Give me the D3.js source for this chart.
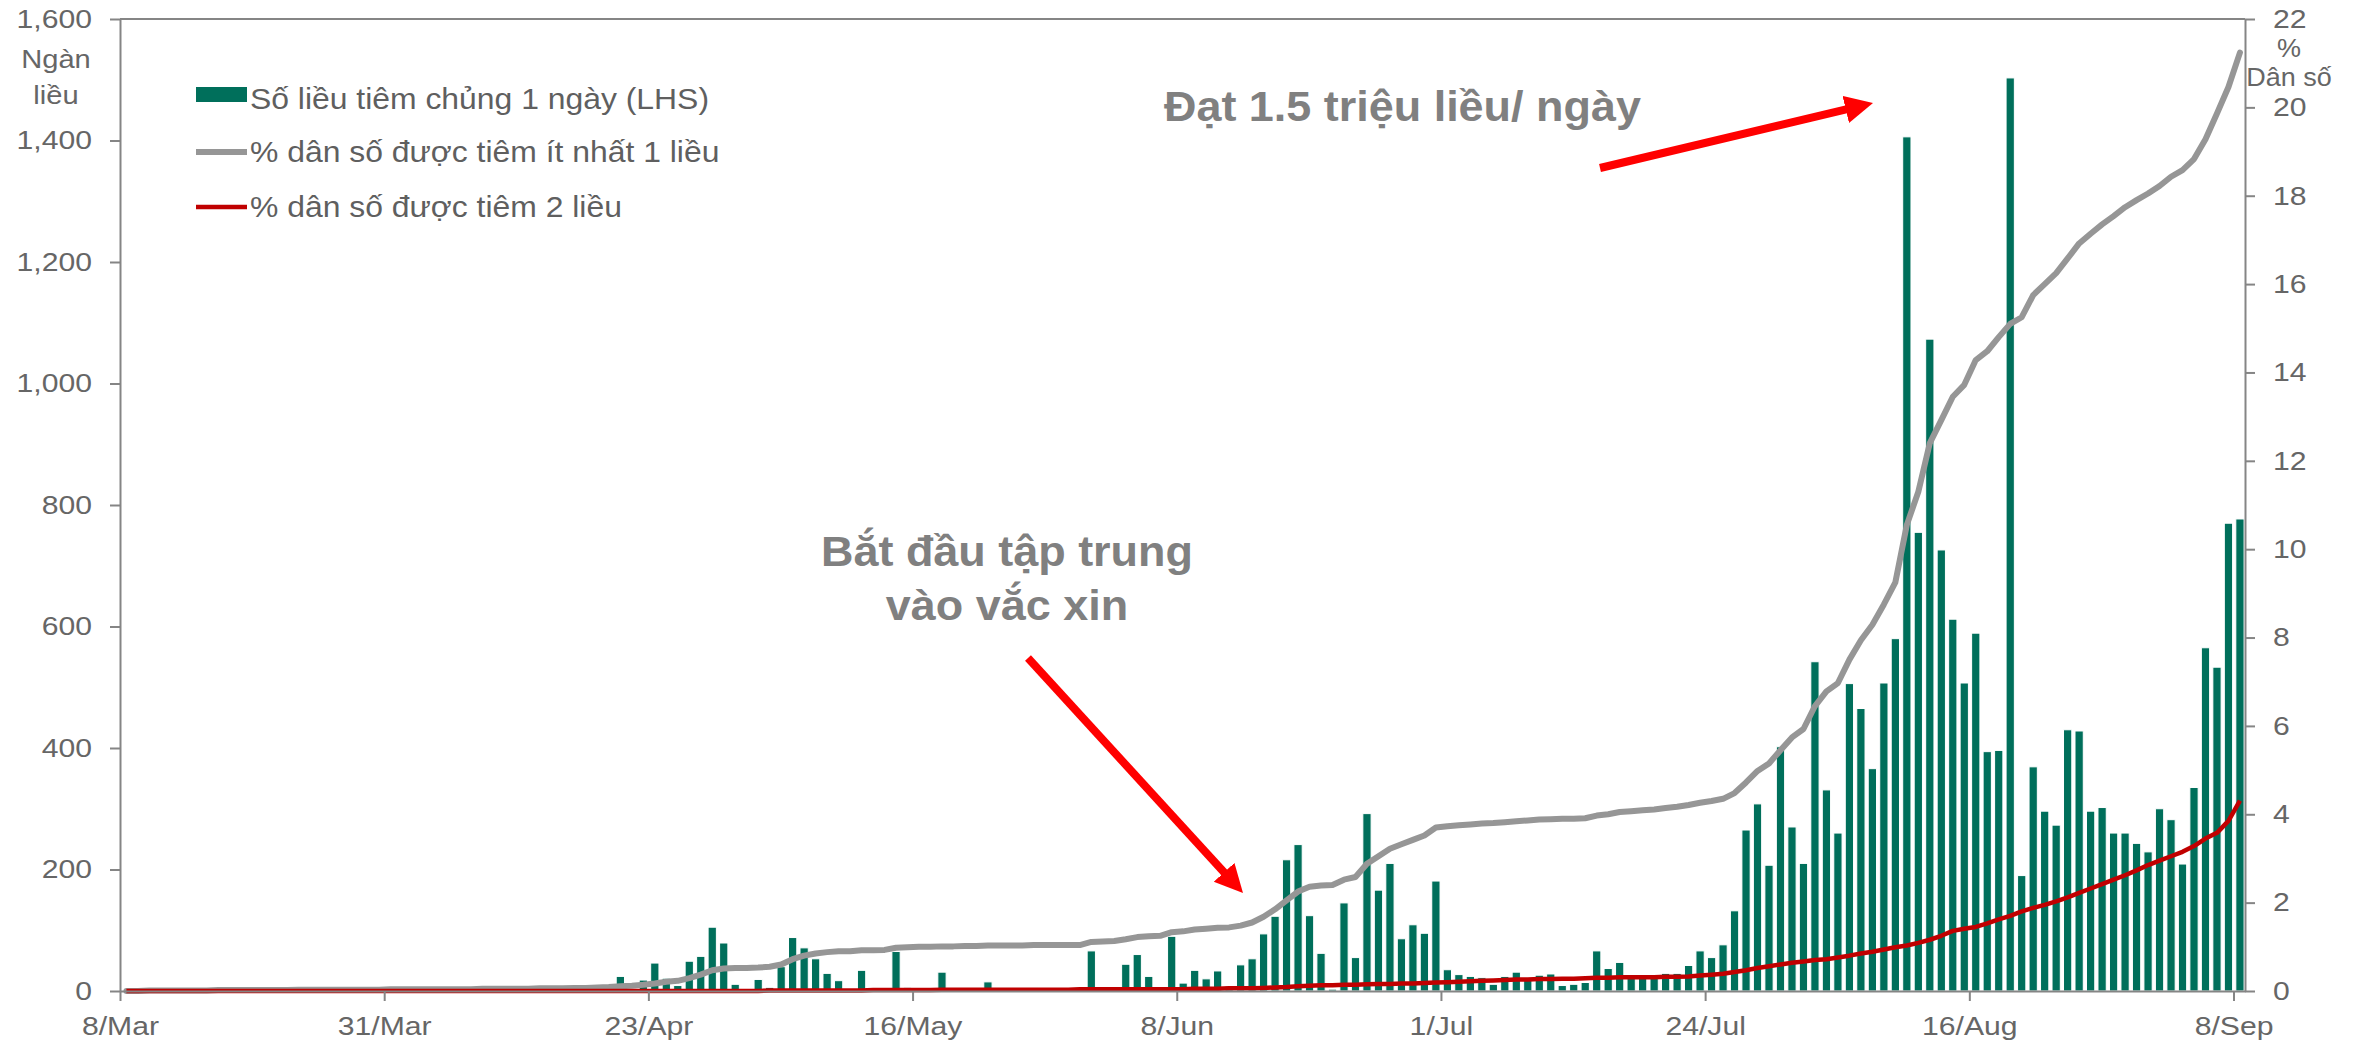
<!DOCTYPE html>
<html>
<head>
<meta charset="utf-8">
<script src="https://cdn.jsdelivr.net/npm/d3@7"></script>
<style>
  body { margin: 0; background: #fff; }
  svg { display: block; font-family: "Liberation Sans", Arial, sans-serif; }
</style>
</head>
<body>
<svg id="chart" width="2361" height="1047"></svg>
<script>
// 1: DATA (one value per day, starting 8/Mar/2021)
const startDate = "2021-03-08";

// daily doses, thousand doses (LHS)
const dailyDoses = [
  1, 1, 2, 2, 2, 1, 2, 2, 3, 2,
  2, 2, 3, 2, 2, 3, 3, 2, 3, 3,
  2, 3, 2, 2, 3, 3, 3, 2, 2, 3,
  3, 3, 2, 3, 3, 3, 4, 4, 3, 4,
  5, 8, 3, 24, 4, 18, 46, 21, 9, 49,
  57, 105, 79, 11, 2, 19, 6, 40, 88, 71,
  53, 29, 17, 2, 34, 2, 2, 65, 6, 2,
  2, 31, 2, 2, 2, 15, 2, 2, 2, 5,
  2, 2, 2, 2, 66, 3, 6, 44, 60, 24,
  3, 90, 13, 34, 20, 33, 8, 43, 53, 94,
  123, 216, 241, 124, 62, 3, 145, 55, 292, 166,
  210, 86, 109, 95, 181, 35, 27, 24, 22, 11,
  24, 31, 21, 26, 28, 9, 11, 14, 66, 37,
  47, 26, 24, 24, 29, 29, 42, 66, 55, 76,
  132, 265, 308, 207, 402, 270, 210, 542, 331, 260,
  506, 465, 366, 507, 580, 1406, 755, 1073, 726, 612,
  507, 589, 394, 396, 1503, 190, 369, 296, 273, 430,
  428, 296, 302, 260, 260, 243, 229, 300, 282, 209,
  335, 565, 533, 770, 777
];

// % population with at least 1 dose (RHS)
const pctOneDose = [
  0.00, 0.00, 0.01, 0.01, 0.01, 0.01, 0.01, 0.01, 0.02, 0.02,
  0.02, 0.02, 0.02, 0.02, 0.02, 0.03, 0.03, 0.03, 0.03, 0.03,
  0.03, 0.03, 0.03, 0.04, 0.04, 0.04, 0.04, 0.04, 0.04, 0.04,
  0.04, 0.05, 0.05, 0.05, 0.05, 0.05, 0.06, 0.06, 0.06, 0.07,
  0.07, 0.08, 0.09, 0.11, 0.12, 0.14, 0.17, 0.21, 0.23, 0.29,
  0.37, 0.47, 0.51, 0.52, 0.52, 0.53, 0.55, 0.60, 0.72, 0.80,
  0.85, 0.88, 0.90, 0.90, 0.92, 0.92, 0.93, 0.98, 0.99, 1.00,
  1.00, 1.01, 1.01, 1.02, 1.02, 1.03, 1.03, 1.03, 1.03, 1.04,
  1.04, 1.04, 1.04, 1.04, 1.11, 1.12, 1.13, 1.17, 1.22, 1.24,
  1.25, 1.33, 1.35, 1.39, 1.41, 1.43, 1.44, 1.48, 1.55, 1.68,
  1.85, 2.05, 2.25, 2.36, 2.39, 2.40, 2.52, 2.58, 2.88, 3.05,
  3.22, 3.32, 3.42, 3.52, 3.70, 3.73, 3.75, 3.77, 3.79, 3.80,
  3.82, 3.84, 3.86, 3.88, 3.89, 3.90, 3.90, 3.91, 3.97, 4.00,
  4.05, 4.07, 4.09, 4.11, 4.14, 4.17, 4.21, 4.26, 4.30, 4.35,
  4.48, 4.72, 4.98, 5.15, 5.45, 5.74, 5.93, 6.45, 6.78, 6.97,
  7.50, 7.94, 8.29, 8.75, 9.25, 10.55, 11.30, 12.40, 12.92, 13.45,
  13.72, 14.28, 14.48, 14.80, 15.10, 15.25, 15.75, 16.00, 16.25, 16.58,
  16.92, 17.14, 17.35, 17.54, 17.74, 17.90, 18.05, 18.22, 18.43, 18.58,
  18.83, 19.28, 19.86, 20.46, 21.24
];

// % population with 2 doses (RHS)
const pctTwoDoses = [
  0, 0, 0, 0, 0, 0, 0, 0, 0, 0,
  0, 0, 0, 0, 0, 0, 0, 0, 0, 0,
  0, 0, 0, 0, 0, 0, 0, 0, 0, 0,
  0, 0, 0, 0, 0, 0, 0, 0, 0, 0,
  0, 0, 0, 0, 0, 0, 0, 0, 0, 0,
  0, 0, 0, 0, 0, 0, 0.01, 0.01, 0.01, 0.01,
  0.01, 0.01, 0.01, 0.01, 0.01, 0.02, 0.02, 0.02, 0.02, 0.02,
  0.02, 0.03, 0.03, 0.03, 0.03, 0.03, 0.03, 0.03, 0.03, 0.03,
  0.03, 0.03, 0.03, 0.04, 0.04, 0.04, 0.04, 0.04, 0.04, 0.04,
  0.04, 0.04, 0.04, 0.05, 0.05, 0.05, 0.06, 0.06, 0.06, 0.07,
  0.08, 0.09, 0.11, 0.12, 0.13, 0.13, 0.14, 0.14, 0.15, 0.16,
  0.16, 0.17, 0.17, 0.18, 0.19, 0.20, 0.21, 0.22, 0.23, 0.24,
  0.25, 0.26, 0.26, 0.27, 0.27, 0.28, 0.28, 0.29, 0.30, 0.30,
  0.31, 0.31, 0.31, 0.31, 0.32, 0.32, 0.33, 0.35, 0.37, 0.39,
  0.43, 0.47, 0.52, 0.56, 0.60, 0.64, 0.67, 0.70, 0.72, 0.76,
  0.80, 0.85, 0.89, 0.94, 0.99, 1.03, 1.09, 1.16, 1.25, 1.36,
  1.41, 1.45, 1.53, 1.62, 1.70, 1.80, 1.88, 1.95, 2.03, 2.12,
  2.22, 2.32, 2.42, 2.52, 2.62, 2.73, 2.85, 2.95, 3.05, 3.15,
  3.28, 3.45, 3.58, 3.85, 4.31
];

const xTickDates = ["2021-03-08", "2021-03-31", "2021-04-23", "2021-05-16", "2021-06-08",
                    "2021-07-01", "2021-07-24", "2021-08-16", "2021-09-08"];
const xTickLabels = ["8/Mar", "31/Mar", "23/Apr", "16/May", "8/Jun", "1/Jul", "24/Jul", "16/Aug", "8/Sep"];
const leftTicks = [0, 200, 400, 600, 800, 1000, 1200, 1400, 1600];
const rightTicks = [0, 2, 4, 6, 8, 10, 12, 14, 16, 18, 20, 22];
const leftTitle = ["Ngàn", "liều"];
const rightTitle = ["%", "Dân số"];
const legendLabels = ["Số liều tiêm chủng 1 ngày (LHS)", "% dân số được tiêm ít nhất 1 liều", "% dân số được tiêm 2 liều"];
const noteStart = ["Bắt đầu tập trung", "vào vắc xin"];
const notePeak = "Đạt 1.5 triệu liều/ ngày";

// 2: LAYOUT
const margin = { top: 19, right: 116, bottom: 56, left: 120 };
const width = 2361 - margin.left - margin.right;
const height = 1047 - margin.top - margin.bottom;

const green = "#006f5b", grey = "#969696", red = "#c00000", axisGrey = "#858585", textGrey = "#666666";

const svg = d3.select("#chart");
const g = svg.append("g").attr("transform", `translate(${margin.left},${margin.top})`);

// the source image is a bit wider than it is tall, so text gets stretched sideways
function stretch(sel, k, origin) {
  sel.style("transform-box", "fill-box")
    .style("transform-origin", origin)
    .style("transform", `scaleX(${k})`);
}

// 3: SCALES
const t0 = d3.utcParse("%Y-%m-%d")(startDate);
const dates = dailyDoses.map((_, i) => d3.utcDay.offset(t0, i));

const x = d3.scaleUtc()
  .domain([t0, d3.utcDay.offset(t0, dailyDoses.length)])
  .range([0, width]);
const dayW = x(dates[1]) - x(dates[0]);
const barW = dayW * 0.72;
const cx = i => x(dates[i]) + dayW * 0.56;

const yL = d3.scaleLinear().domain([0, 1600]).range([height, 0]);
const yR = d3.scaleLinear().domain([0, 22]).range([height, 0]);

// 4: BARS AND LINES
g.append("g").selectAll("rect")
  .data(dailyDoses)
  .join("rect")
  .attr("x", (d, i) => cx(i) - barW / 2)
  .attr("y", d => yL(d))
  .attr("width", barW)
  .attr("height", d => height - yL(d))
  .attr("fill", green)
  .attr("stroke", "#ffffff")
  .attr("stroke-width", 1);

const line = d3.line()
  .x((d, i) => cx(i))
  .y(d => yR(d));

g.append("path")
  .datum(pctOneDose)
  .attr("fill", "none")
  .attr("stroke", grey)
  .attr("stroke-width", 6)
  .attr("stroke-linejoin", "round")
  .attr("stroke-linecap", "round")
  .attr("d", line);

g.append("path")
  .datum(pctTwoDoses)
  .attr("fill", "none")
  .attr("stroke", red)
  .attr("stroke-width", 4.5)
  .attr("stroke-linejoin", "round")
  .attr("d", line);

// 5: AXES
function styleAxis(ax) {
  ax.select(".domain").attr("stroke", axisGrey).attr("stroke-width", 2);
  ax.selectAll(".tick line").attr("stroke", axisGrey).attr("stroke-width", 2);
  ax.selectAll("text").attr("fill", textGrey).style("font-size", "26px").style("font-family", "inherit");
}

const xAxis = g.append("g")
  .attr("transform", `translate(0,${height})`)
  .call(d3.axisBottom(x)
    .tickValues(xTickDates.map(d3.utcParse("%Y-%m-%d")))
    .tickFormat((d, i) => xTickLabels[i])
    .tickSize(10).tickPadding(16).tickSizeOuter(0));
styleAxis(xAxis);
stretch(xAxis.selectAll("text"), 1.16, "50% 50%");

const yAxisL = g.append("g")
  .call(d3.axisLeft(yL).tickValues(leftTicks).tickFormat(d3.format(","))
    .tickSize(10).tickPadding(18).tickSizeOuter(0));
styleAxis(yAxisL);
stretch(yAxisL.selectAll("text"), 1.16, "100% 50%");

const yAxisR = g.append("g")
  .attr("transform", `translate(${width},0)`)
  .call(d3.axisRight(yR).tickValues(rightTicks)
    .tickSize(10).tickPadding(18).tickSizeOuter(0));
styleAxis(yAxisR);
stretch(yAxisR.selectAll("text"), 1.16, "0% 50%");

// top border
g.append("line")
  .attr("x1", 0).attr("x2", width)
  .attr("y1", 0).attr("y2", 0)
  .attr("stroke", axisGrey).attr("stroke-width", 2);

// 6: AXIS TITLES
svg.append("g").selectAll("text")
  .data(leftTitle)
  .join("text")
  .attr("x", 56)
  .attr("y", (d, i) => 68 + i * 36)
  .attr("text-anchor", "middle")
  .attr("fill", textGrey)
  .style("font-size", "26px")
  .text(d => d)
  .call(stretch, 1.12, "50% 50%");

svg.append("g").selectAll("text")
  .data(rightTitle)
  .join("text")
  .attr("x", 2289)
  .attr("y", (d, i) => 57 + i * 29)
  .attr("text-anchor", "middle")
  .attr("fill", textGrey)
  .style("font-size", "25px")
  .text(d => d)
  .call(stretch, 1.08, "50% 50%");

// 7: LEGEND
const legend = svg.append("g").attr("transform", "translate(196,0)");
const rowY = [99, 152, 207];

legend.append("rect")
  .attr("x", 0).attr("y", 87)
  .attr("width", 51).attr("height", 15)
  .attr("fill", green);
legend.append("line")
  .attr("x1", 0).attr("x2", 51).attr("y1", rowY[1]).attr("y2", rowY[1])
  .attr("stroke", grey).attr("stroke-width", 6);
legend.append("line")
  .attr("x1", 0).attr("x2", 51).attr("y1", rowY[2]).attr("y2", rowY[2])
  .attr("stroke", red).attr("stroke-width", 4.5);

legend.selectAll("text.lab")
  .data(legendLabels)
  .join("text")
  .attr("class", "lab")
  .attr("x", 54)
  .attr("y", (d, i) => rowY[i])
  .attr("dy", "0.36em")
  .attr("fill", "#5f5f5f")
  .style("font-size", "29px")
  .text(d => d)
  .call(stretch, 1.1, "0% 50%");

// 8: ANNOTATIONS
const defs = svg.append("defs");
defs.append("marker")
  .attr("id", "head")
  .attr("markerUnits", "userSpaceOnUse")
  .attr("markerWidth", 30).attr("markerHeight", 30)
  .attr("refX", 28).attr("refY", 14)
  .attr("orient", "auto")
  .append("path")
  .attr("d", "M0,0 L28,14 L0,28 Z")
  .attr("fill", "#ff0000");

const arrows = [
  { x1: 1028, y1: 658, x2: 1243, y2: 893 },
  { x1: 1600, y1: 168, x2: 1873, y2: 103 }
];
arrows.forEach(a => {
  const len = Math.hypot(a.x2 - a.x1, a.y2 - a.y1);
  const ux = (a.x2 - a.x1) / len, uy = (a.y2 - a.y1) / len;
  svg.append("line")
    .attr("x1", a.x1).attr("y1", a.y1)
    .attr("x2", a.x2 - ux * 20).attr("y2", a.y2 - uy * 20)
    .attr("stroke", "#ff0000")
    .attr("stroke-width", 8);
  svg.append("path")
    .attr("d", `M${a.x2 - ux * 20},${a.y2 - uy * 20}L${a.x2},${a.y2}`)
    .attr("stroke", "none")
    .attr("marker-end", "url(#head)");
});

svg.append("g").selectAll("text")
  .data(noteStart)
  .join("text")
  .attr("x", 1007)
  .attr("y", (d, i) => 566 + i * 54)
  .attr("text-anchor", "middle")
  .attr("fill", "#808080")
  .style("font-size", "42px")
  .style("font-weight", "bold")
  .text(d => d)
  .call(stretch, 1.07, "50% 50%");

svg.append("text")
  .attr("x", 1164)
  .attr("y", 121)
  .attr("fill", "#808080")
  .style("font-size", "42px")
  .style("font-weight", "bold")
  .text(notePeak)
  .call(stretch, 1.07, "0% 50%");
</script>
</body>
</html>
